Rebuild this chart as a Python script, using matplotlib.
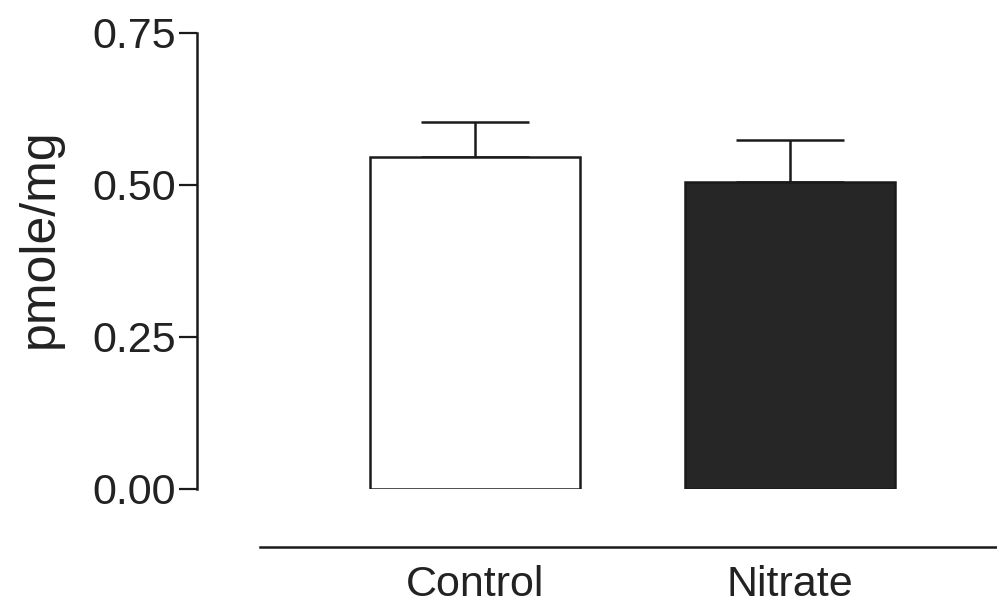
import matplotlib.pyplot as plt

# values
groups = ['Control', 'Nitrate']
means = [0.546, 0.505]
sems = [0.058, 0.069]
bar_colors = ['white', '#262626']
yticks = [0.00, 0.25, 0.50, 0.75]
ytick_labels = ['0.00', '0.25', '0.50', '0.75']

plt.rcParams['font.family'] = ['Liberation Sans', 'DejaVu Sans']

fig = plt.figure(figsize=(9.97, 6.05), dpi=100)
# axes box: left spine at x=197 px, 0.75 at y=33 px, 0.00 at y=489 px
ax = fig.add_axes([197 / 997, (605 - 489) / 605, 800 / 997, 456 / 605])

x = range(len(groups))
ax.bar(x, means, width=0.667, color=bar_colors, edgecolor='#1a1a1a',
       linewidth=1.8, zorder=2)
# upper error only; the lower cap sits under the bar top
ax.errorbar(x, means, yerr=[[0, 0], sems], fmt='none', ecolor='#1a1a1a',
            elinewidth=1.8, capsize=39, capthick=1.8, zorder=1)

ax.set_xlim(-0.883, 1.657)
ax.set_ylim(0, 0.75)
ax.set_yticks(yticks)
ax.set_yticklabels(ytick_labels, fontsize=31, color='#222222')
ax.tick_params(axis='y', length=13, width=1.6, pad=2, color='#1a1a1a')
ax.set_ylabel('pmole/mg', fontsize=36, color='#222222')
ax.yaxis.set_label_coords(-0.168, 0.55)

# separate category line below the plot
ax.spines['top'].set_visible(False)
ax.spines['right'].set_visible(False)
ax.spines['left'].set_linewidth(1.8)
ax.spines['left'].set_color('#1a1a1a')
ax.spines['bottom'].set_position(('outward', 42))
ax.spines['bottom'].set_bounds(-0.683, 1.657)
ax.spines['bottom'].set_linewidth(1.8)
ax.spines['bottom'].set_color('#1a1a1a')
ax.set_xticks(list(x))
ax.set_xticklabels(groups, fontsize=31, color='#222222')
ax.tick_params(axis='x', length=0, pad=13)

fig.savefig('out.png', dpi=100, facecolor='white')
